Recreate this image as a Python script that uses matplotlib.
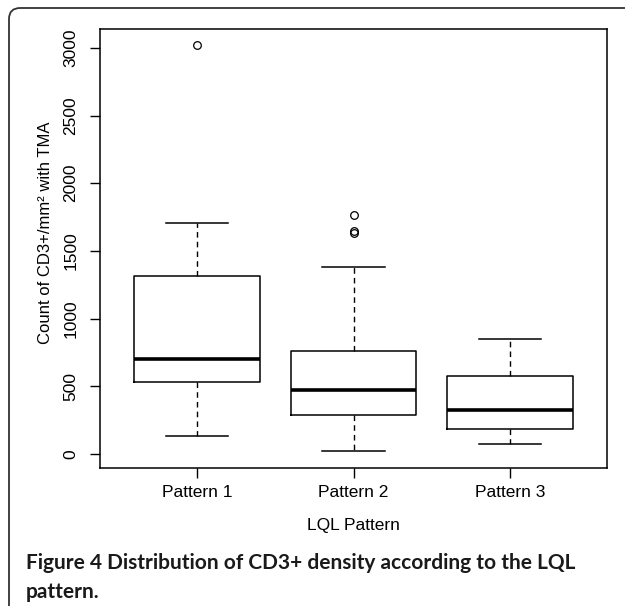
import matplotlib.pyplot as plt
from matplotlib.patches import FancyBboxPatch

# values
patterns = ["Pattern 1", "Pattern 2", "Pattern 3"]
whisk_lo = [133, 22, 72]
q1 = [532, 288, 187]
med = [702, 473, 325]
q3 = [1315, 761, 576]
whisk_hi = [1710, 1379, 847]
outliers = [[3020], [1767, 1645, 1632], []]

yticks = [0, 500, 1000, 1500, 2000, 2500, 3000]

plt.rcParams['font.family'] = ['Liberation Sans', 'DejaVu Sans']

fig = plt.figure(figsize=(6.25, 6.06), dpi=100)

# rounded frame round the figure (open to the right and bottom edge)
frame = FancyBboxPatch((9 / 625, -0.05), 1.2, 1 - 8 / 606 + 0.05,
                       boxstyle="round,pad=0,rounding_size=0.018",
                       transform=fig.transFigure, fill=False,
                       edgecolor="#333333", linewidth=1.3)
fig.patches.append(frame)

ax = fig.add_axes([100 / 625, 1 - 468 / 606, 507 / 625, 439 / 606])

stats = []
for i in range(len(patterns)):
    stats.append({"label": patterns[i], "whislo": whisk_lo[i], "q1": q1[i],
                  "med": med[i], "q3": q3[i], "whishi": whisk_hi[i],
                  "fliers": outliers[i]})

ax.bxp(stats, positions=[1, 2, 3], widths=0.8, showcaps=True,
       boxprops=dict(color="black", linewidth=1.1),
       medianprops=dict(color="black", linewidth=2.6, solid_capstyle="butt"),
       whiskerprops=dict(color="black", linewidth=1.0, linestyle=(0, (4, 3))),
       capprops=dict(color="black", linewidth=1.1),
       flierprops=dict(marker="o", markerfacecolor="none",
                       markeredgecolor="black", markersize=5.5,
                       markeredgewidth=0.9))

ax.set_xlim(0.38, 3.62)
ax.set_ylim(-103, 3139)
ax.set_yticks(yticks)
ax.set_yticklabels([str(t) for t in yticks], rotation=90, va="center")
ax.set_xticks([1, 2, 3])
ax.set_xticklabels(patterns)
ax.tick_params(axis="both", labelsize=12.5, length=7.5, width=1.0,
               color="black")
ax.tick_params(axis="y", pad=8)
ax.tick_params(axis="x", pad=5)
for sp in ax.spines.values():
    sp.set_linewidth(1.1)

ax.set_xlabel("LQL Pattern", fontsize=12.5, labelpad=13)
ax.set_ylabel("Count of CD3+/mm² with TMA", fontsize=12)
ax.yaxis.set_label_coords(-0.093, 0.535)

fig.text(26 / 625, 1 - 563 / 606,
         "Figure 4 Distribution of CD3+ density according to the LQL",
         fontsize=15, fontweight="bold", family=["Lato", "DejaVu Sans"],
         color="#1a1a1a", va="center", ha="left")
fig.text(26 / 625, 1 - 592 / 606, "pattern.",
         fontsize=15, fontweight="bold", family=["Lato", "DejaVu Sans"],
         color="#1a1a1a", va="center", ha="left")

fig.savefig("out.png", dpi=100)
